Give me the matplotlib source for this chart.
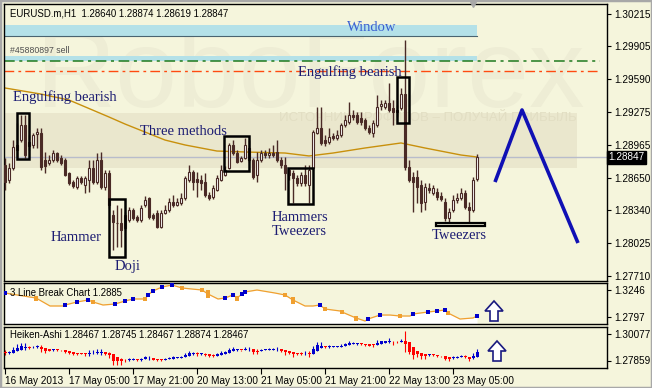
import numpy as np
import matplotlib
matplotlib.use("Agg")
import matplotlib.pyplot as plt
import matplotlib.transforms as mtrans
from matplotlib.patches import Rectangle, Polygon
from matplotlib.ticker import FormatStrFormatter, FixedLocator, FixedFormatter

plt.rcParams['font.family'] = ['Liberation Sans', 'DejaVu Sans']

# EURUSD.m H1 bars, left to right
opens = [1.28771, 1.28627, 1.28742, 1.28914, 1.29009, 1.29152, 1.28990, 1.28962, 1.29066, 1.29076,
         1.28818, 1.28790, 1.28818, 1.28885, 1.28837, 1.28818, 1.28694, 1.28608, 1.28561, 1.28647,
         1.28580, 1.28627, 1.28742, 1.28608, 1.28818, 1.28561, 1.28694, 1.28293, 1.28220, 1.28217,
         1.28169, 1.28245, 1.28341, 1.28274, 1.28245, 1.28389, 1.28456, 1.28293, 1.28312, 1.28179,
         1.28312, 1.28341, 1.28417, 1.28389, 1.28408, 1.28456, 1.28627, 1.28704, 1.28637, 1.28627,
         1.28608, 1.28484, 1.28465, 1.28532, 1.28627, 1.28675, 1.28742, 1.28962, 1.28885, 1.28809,
         1.28837, 1.28933, 1.28818, 1.28675, 1.28818, 1.28885, 1.28866, 1.28885, 1.28895, 1.28818,
         1.28771, 1.28723, 1.28694, 1.28647, 1.28599, 1.28675, 1.28580, 1.28742, 1.29076, 1.29124,
         1.29009, 1.28990, 1.29047, 1.29028, 1.29057, 1.29152, 1.29181, 1.29248, 1.29248, 1.29219,
         1.29200, 1.29124, 1.29076, 1.29152, 1.29334, 1.29324, 1.29362, 1.29315, 1.29296, 1.29315,
         1.29448, 1.28752, 1.28656, 1.28656, 1.28580, 1.28417, 1.28551, 1.28503, 1.28513, 1.28475,
         1.28417, 1.28265, 1.28341, 1.28436, 1.28456, 1.28503, 1.28370, 1.28341, 1.28640]
highs = [1.28837, 1.28790, 1.29009, 1.29171, 1.29248, 1.29248, 1.29057, 1.29076, 1.29124, 1.29124,
         1.28895, 1.28866, 1.28914, 1.28895, 1.28866, 1.28837, 1.28704, 1.28627, 1.28666, 1.28666,
         1.28666, 1.28818, 1.28818, 1.28885, 1.28895, 1.28723, 1.28723, 1.28341, 1.28389, 1.28360,
         1.28322, 1.28370, 1.28360, 1.28293, 1.28389, 1.28475, 1.28465, 1.28312, 1.28341, 1.28341,
         1.28389, 1.28456, 1.28484, 1.28456, 1.28503, 1.28666, 1.28771, 1.28723, 1.28704, 1.28675,
         1.28694, 1.28513, 1.28580, 1.28675, 1.28771, 1.28761, 1.28981, 1.29009, 1.28914, 1.28857,
         1.29028, 1.29009, 1.28837, 1.28895, 1.28914, 1.28914, 1.28933, 1.28962, 1.29009, 1.28847,
         1.28847, 1.28742, 1.28723, 1.28675, 1.28704, 1.28771, 1.28771, 1.29105, 1.29324, 1.29324,
         1.29057, 1.29124, 1.29076, 1.29105, 1.29171, 1.29248, 1.29372, 1.29296, 1.29277, 1.29277,
         1.29219, 1.29152, 1.29200, 1.29439, 1.29391, 1.29391, 1.29553, 1.29391, 1.29343, 1.29506,
         1.29964, 1.28818, 1.28704, 1.28723, 1.28627, 1.28599, 1.28599, 1.28580, 1.28551, 1.28513,
         1.28456, 1.28360, 1.28484, 1.28503, 1.28551, 1.28532, 1.28417, 1.28656, 1.28874]
lows = [1.28532, 1.28599, 1.28723, 1.28847, 1.28990, 1.28837, 1.28914, 1.28933, 1.28933, 1.28723,
        1.28694, 1.28771, 1.28799, 1.28799, 1.28771, 1.28666, 1.28580, 1.28551, 1.28542, 1.28589,
        1.28503, 1.28513, 1.28589, 1.28589, 1.28542, 1.28532, 1.28360, 1.27959, 1.27988, 1.27988,
        1.28150, 1.28226, 1.28245, 1.28226, 1.28226, 1.28370, 1.28255, 1.28245, 1.28169, 1.28169,
        1.28303, 1.28322, 1.28370, 1.28379, 1.28389, 1.28436, 1.28608, 1.28532, 1.28465, 1.28532,
        1.28465, 1.28436, 1.28446, 1.28522, 1.28618, 1.28666, 1.28733, 1.28866, 1.28790, 1.28799,
        1.28828, 1.28799, 1.28637, 1.28608, 1.28799, 1.28837, 1.28837, 1.28847, 1.28799, 1.28742,
        1.28532, 1.28627, 1.28408, 1.28570, 1.28570, 1.28570, 1.28408, 1.28723, 1.29066, 1.28962,
        1.28952, 1.28971, 1.29009, 1.29009, 1.29038, 1.29133, 1.29162, 1.29200, 1.29162, 1.29152,
        1.29105, 1.29066, 1.29038, 1.29133, 1.29296, 1.29305, 1.29277, 1.29152, 1.29229, 1.29296,
        1.28723, 1.28608, 1.28322, 1.28408, 1.28322, 1.28341, 1.28503, 1.28484, 1.28436, 1.28427,
        1.28236, 1.28217, 1.28322, 1.28408, 1.28436, 1.28351, 1.28217, 1.28322, 1.28619]
closes = [1.28608, 1.28742, 1.28943, 1.28962, 1.29152, 1.28866, 1.28952, 1.29057, 1.29086, 1.28752,
          1.28761, 1.28818, 1.28885, 1.28818, 1.28790, 1.28675, 1.28599, 1.28570, 1.28647, 1.28608,
          1.28647, 1.28742, 1.28608, 1.28818, 1.28561, 1.28694, 1.28389, 1.28226, 1.28215, 1.28150,
          1.28293, 1.28341, 1.28265, 1.28245, 1.28360, 1.28436, 1.28274, 1.28265, 1.28179, 1.28312,
          1.28341, 1.28417, 1.28389, 1.28417, 1.28456, 1.28647, 1.28704, 1.28608, 1.28608, 1.28599,
          1.28484, 1.28456, 1.28551, 1.28647, 1.28723, 1.28723, 1.28962, 1.28885, 1.28799, 1.28837,
          1.28962, 1.28818, 1.28656, 1.28818, 1.28885, 1.28866, 1.28885, 1.28866, 1.28818, 1.28771,
          1.28694, 1.28675, 1.28647, 1.28599, 1.28675, 1.28599, 1.28723, 1.29086, 1.29124, 1.28981,
          1.28981, 1.29038, 1.29028, 1.29057, 1.29152, 1.29200, 1.29248, 1.29229, 1.29181, 1.29181,
          1.29124, 1.29086, 1.29171, 1.29324, 1.29353, 1.29362, 1.29296, 1.29277, 1.29277, 1.29448,
          1.28752, 1.28627, 1.28608, 1.28561, 1.28408, 1.28561, 1.28532, 1.28551, 1.28465, 1.28446,
          1.28265, 1.28322, 1.28436, 1.28456, 1.28503, 1.28370, 1.28341, 1.28627, 1.28847]

# moving average (bar index, price)
ma_x = [0, 9, 16, 26, 30, 40, 45, 53, 60, 70, 76, 82, 90, 99, 105, 114, 118]
ma_y = [1.29506, 1.29448, 1.29391, 1.29229, 1.29162, 1.29009, 1.28962, 1.28904, 1.28895,
        1.28885, 1.28857, 1.28885, 1.28933, 1.28981, 1.28933, 1.28866, 1.28847]

last_price = 1.28847
price_ticks = [1.30215, 1.29905, 1.29590, 1.29275, 1.28965, 1.28650, 1.28340, 1.28025, 1.27710]
time_ticks = [0, 16, 32, 48, 64, 80, 96, 112]
time_labels = ['16 May 2013', '17 May 05:00', '17 May 21:00', '20 May 13:00',
               '21 May 05:00', '21 May 21:00', '22 May 13:00', '23 May 05:00']

# pattern boxes: (bar left, bar right, price low, price high)
boxes = [(3.0, 6.0, 1.28828, 1.29267), (26.0, 30.0, 1.27892, 1.28446),
         (54.75, 61.0, 1.28713, 1.29048), (70.75, 77.0, 1.28398, 1.28742),
         (98.0, 101.0, 1.29172, 1.29611)]
tweezer_bar = (107.75, 120.0, 1.28188, 1.28217)
labels = [('Engulfing bearish', 2.0, 1.29420), ('Three methods', 33.75, 1.29095),
          ('Hammer', 11.5, 1.28083), ('Doji', 27.5, 1.27806),
          ('Hammers', 66.75, 1.28265), ('Tweezers', 66.75, 1.28131),
          ('Engulfing bearish', 73.25, 1.29659), ('Tweezers', 106.75, 1.28093)]

# window gap and order levels
window_band = (1.30003, 1.30108)
order_band = (1.29764, 1.29812)
tp_level = 1.29764
sl_level = 1.29668

# forecast zigzag
fc_x = [122.5, 129.25, 143.25]
fc_y = [1.28608, 1.29296, 1.28026]

# 3 Line Break panel
lb_x = [0, 7.75, 11.25, 14.5, 15, 18, 20.75, 22, 24.5, 27.5, 30, 32, 35, 35.75, 37, 39.25,
        41.75, 44.25, 46.75, 49.25, 50.75, 53.25, 55, 57, 58, 59.25, 60, 63, 67.5, 70, 72,
        75, 77, 78.75, 80, 83.75, 84.25, 87.75, 90, 90.75, 93.75, 96.25, 98.75, 101.25, 102,
        105.75, 108, 110, 110.75, 113.75, 117, 118]
lb_val = [1.3192, 1.3111, 1.2981, 1.2981, 1.2997, 1.3046, 1.3078, 1.3046, 1.2997, 1.3013,
          1.3062, 1.3095, 1.3095, 1.3160, 1.3225, 1.3290, 1.3322, 1.3274, 1.3257, 1.3241,
          1.3176, 1.3095, 1.3111, 1.3160, 1.3111, 1.3176, 1.3209, 1.3241, 1.3192, 1.3160,
          1.3078, 1.2981, 1.2981, 1.2997, 1.2932, 1.2900, 1.2883, 1.2786, 1.2737, 1.2769,
          1.2834, 1.2834, 1.2818, 1.2818, 1.2851, 1.2883, 1.2900, 1.2916, 1.2867, 1.2769,
          1.2786, 1.2818]
lb_up_x = [0, 15, 18, 20.75, 27.5, 30, 32, 35.75, 37, 39.25, 41.75, 55, 57, 59.25, 60,
           78.75, 90.75, 93.75, 102, 105.75, 108, 110, 118]
lb_up_val = [1.3192, 1.2997, 1.3046, 1.3078, 1.3013, 1.3062, 1.3095, 1.3160, 1.3225, 1.3290,
             1.3322, 1.3111, 1.3160, 1.3176, 1.3209, 1.2997, 1.2769, 1.2834, 1.2851, 1.2883,
             1.2900, 1.2916, 1.2818]
# falling bricks: (bar, low, high)
lb_down = [(7.75, 1.3062, 1.3143), (22, 1.3013, 1.3078), (35, 1.3062, 1.3127),
           (44.25, 1.3241, 1.3306), (49.25, 1.3209, 1.3274), (50.75, 1.3111, 1.3241),
           (58, 1.3062, 1.3143), (70, 1.3127, 1.3192), (72, 1.3013, 1.3127),
           (80, 1.2900, 1.2965), (84.25, 1.2851, 1.2916), (87.75, 1.2737, 1.2818),
           (98.75, 1.2786, 1.2851), (110.75, 1.2834, 1.2900)]

# Heiken-Ashi scale labels as printed on the chart
ha_tick_labels = ['1.30077', '1.27859']

BG = '#F5F5DC'
CANDLE = '#4A2A26'
NAVY = '#1C1C72'

fig = plt.figure(figsize=(6.52, 3.88), dpi=100)
fig.patch.set_facecolor(BG)
W, H = 652.0, 388.0
ax = fig.add_axes([4 / W, 1 - 281 / H, 603 / W, 277 / H])
lb = fig.add_axes([4 / W, 1 - 324 / H, 603 / W, 41 / H], sharex=ax)
ha = fig.add_axes([4 / W, 1 - 368 / H, 603 / W, 41 / H], sharex=ax)

for a in (ax, lb, ha):
    a.set_facecolor(BG)
    for s in a.spines.values():
        s.set_color('black')
        s.set_linewidth(1.0)
    a.yaxis.tick_right()
    a.tick_params(axis='y', direction='out', length=3, width=0.8, pad=2, labelsize=7.2)
ax.tick_params(axis='x', bottom=False, labelbottom=False)
lb.tick_params(axis='x', bottom=False, labelbottom=False)

ax.set_xlim(-0.25, 150.5)
ax.set_ylim(1.27663, 1.30308)

# watermark
ax.add_patch(Rectangle((0, 0.408), 0.95, 0.199, transform=ax.transAxes,
                       color='#EAE7CD', lw=0, zorder=0))
ax.text(0.509, 0.628, 'RoboForex', transform=ax.transAxes, ha='center', va='baseline',
        fontsize=80, color='#EEEDD5', zorder=0.2)
ax.text(0.95, 0.588, 'ИСТОЧНИК ПРОФИТОВ – ПОЛУЧАЙ ПРИБЫЛЬ', transform=ax.transAxes,
        ha='right', va='center', fontsize=9.5, color='#E2DEC3', zorder=0.2)

# window / order levels
ax.add_patch(Rectangle((-0.25, window_band[0]), 118.25, window_band[1] - window_band[0],
                       facecolor='#B4E1E8', edgecolor='none', zorder=1))
ax.plot([-0.25, 118], [window_band[0]] * 2, color='#4A6470', lw=0.8, zorder=1.1)
ax.add_patch(Rectangle((-0.25, order_band[0]), 118.25, order_band[1] - order_band[0],
                       facecolor='#B4E1E8', edgecolor='none', zorder=1))
ax.plot([-0.25, 148.75], [tp_level] * 2, color='#1E7A1E', lw=1.1, ls=(0, (7, 3, 2, 3)), zorder=1.2)
ax.plot([-0.25, 148.75], [sl_level] * 2, color='#FF4A10', lw=1.0, ls=(0, (7, 3, 2, 3)), zorder=1.2)
ax.text(1.2, 1.29825, '#45880897 sell', fontsize=6.3, color='#505050', va='bottom', zorder=1.3)
ax.text(85.5, 1.30079, 'Window', fontsize=10.5, family='Liberation Serif',
        color='#3A5FD0', va='center', zorder=3)

ax.axhline(last_price, color='#B8BCCB', lw=1.0, zorder=1)

# moving average
ax.plot(ma_x, ma_y, color='#C8900C', lw=1.0, zorder=2)

# candles
o, h, l, c = map(np.array, (opens, highs, lows, closes))
x = np.arange(len(o))
up = c >= o
ax.vlines(x, l, h, color=CANDLE, lw=1.0, zorder=3)
ax.bar(x[up], np.maximum(c - o, 0.00002)[up], bottom=o[up], width=0.62, color='white',
       edgecolor=CANDLE, lw=0.8, zorder=4)
ax.bar(x[~up], (o - c)[~up], bottom=c[~up], width=0.62, color=CANDLE,
       edgecolor=CANDLE, lw=0.8, zorder=4)

# pattern boxes and names
for x0, x1, y0, y1 in boxes:
    ax.add_patch(Rectangle((x0, y0), x1 - x0, y1 - y0, fill=False, edgecolor='black',
                           lw=1.8, zorder=5))
x0, x1, y0, y1 = tweezer_bar
ax.add_patch(Rectangle((x0, y0), x1 - x0, y1 - y0, facecolor=BG, edgecolor='black',
                       lw=1.6, zorder=5))
for txt, tx, ty in labels:
    ax.text(tx, ty, txt, fontsize=10.5, family='Liberation Serif', color=NAVY,
            va='center', ha='left', zorder=6)

# forecast
ax.plot(fc_x, fc_y, color='#1010B4', lw=2.6, solid_capstyle='butt', zorder=5)

ax.set_yticks(price_ticks)
ax.yaxis.set_major_formatter(FormatStrFormatter('%.5f'))
ax.text(1.002, last_price, '%.5f' % last_price, transform=ax.get_yaxis_transform(),
        ha='left', va='center', fontsize=7.2, color='white', zorder=10, clip_on=False,
        bbox=dict(boxstyle='square,pad=0.15', facecolor='black', edgecolor='black'))
ax.text(0.01, 0.985, 'EURUSD.m,H1  1.28640 1.28874 1.28619 1.28847', transform=ax.transAxes,
        fontsize=6.9, va='top', ha='left', zorder=10)
ax.plot([117], [1.30308], marker='v', color='#A8A8A8', ms=5, clip_on=False, zorder=10)

# 3 Line Break panel
lb.set_ylim(1.2688, 1.3355)
lb.fill_between(lb_x, lb_val, 1.2688, color='white', lw=0, zorder=1)
lb.plot(lb_x, lb_val, color='#F0A030', lw=0.9, zorder=2)
for bx, lo, hi in lb_down:
    lb.bar(bx, hi - lo, bottom=lo, width=0.9, color='#F0A030', lw=0, zorder=3)
lb.plot(lb_up_x, lb_up_val, 's', color='#0000CC', ms=3.0, mew=0, zorder=3)
lb.set_yticks([1.3246, 1.2797])
lb.yaxis.set_major_formatter(FormatStrFormatter('%.4f'))
lb.text(0.01, 0.76, '3 Line Break Chart 1.2885', transform=lb.transAxes, fontsize=6.9,
        va='center', ha='left', zorder=5)

# Heiken-Ashi panel, built from the same bars
ha_c = (o + h + l + c) / 4
ha_o = np.empty_like(ha_c)
ha_o[0] = (o[0] + c[0]) / 2
for k in range(1, len(ha_c)):
    ha_o[k] = (ha_o[k - 1] + ha_c[k - 1]) / 2
ha_h = np.maximum.reduce([h, ha_o, ha_c])
ha_l = np.minimum.reduce([l, ha_o, ha_c])
ha_up = ha_c >= ha_o
ha_col = np.where(ha_up, '#0000CC', '#FF0000')
ha.set_ylim(1.27787, 1.30193)
ha.vlines(x, ha_l, ha_h, colors=ha_col, lw=0.8, zorder=2)
ha.bar(x, np.maximum(np.abs(ha_c - ha_o), 0.0005), bottom=np.minimum(ha_c, ha_o),
       width=0.75, color=ha_col, lw=0, zorder=3)
# the window's scale labels sit 7 px below the top and 7.5 px above the bottom
ha.yaxis.set_major_locator(FixedLocator([1.30193 - 7 / 41 * 0.02406,
                                         1.27787 + 7.5 / 41 * 0.02406]))
ha.yaxis.set_major_formatter(FixedFormatter(ha_tick_labels))
ha.text(0.01, 0.8, 'Heiken-Ashi 1.28467 1.28745 1.28467 1.28874 1.28467',
        transform=ha.transAxes, fontsize=6.9, va='center', ha='left', zorder=5)

ha.set_xticks(time_ticks)
ha.set_xticklabels(time_labels, ha='left', fontsize=7.2)
ha.tick_params(axis='x', direction='out', length=4, width=0.8, pad=1.5)
ax.set_xlim(-0.25, 150.5)

# hollow up arrows (in figure pixels)
px = mtrans.Affine2D().scale(1 / W, -1 / H).translate(0, 1) + fig.transFigure
for ty in (301, 341):
    pts = [(494, ty), (485, ty + 10), (490, ty + 10), (490, ty + 20), (498, ty + 20),
           (498, ty + 10), (503, ty + 10)]
    if ty == 341:
        pts = [(p[0] + 3, p[1]) for p in pts]
    fig.patches.append(Polygon(pts, closed=True, facecolor='white', edgecolor='#1A1A80',
                               lw=1.2, transform=px))

fig.patches.append(Rectangle((0, 0), 1, 1, transform=fig.transFigure, fill=False,
                             edgecolor='#A8A8A8', lw=2.5))

fig.savefig('out.png', dpi=100, facecolor=BG)
